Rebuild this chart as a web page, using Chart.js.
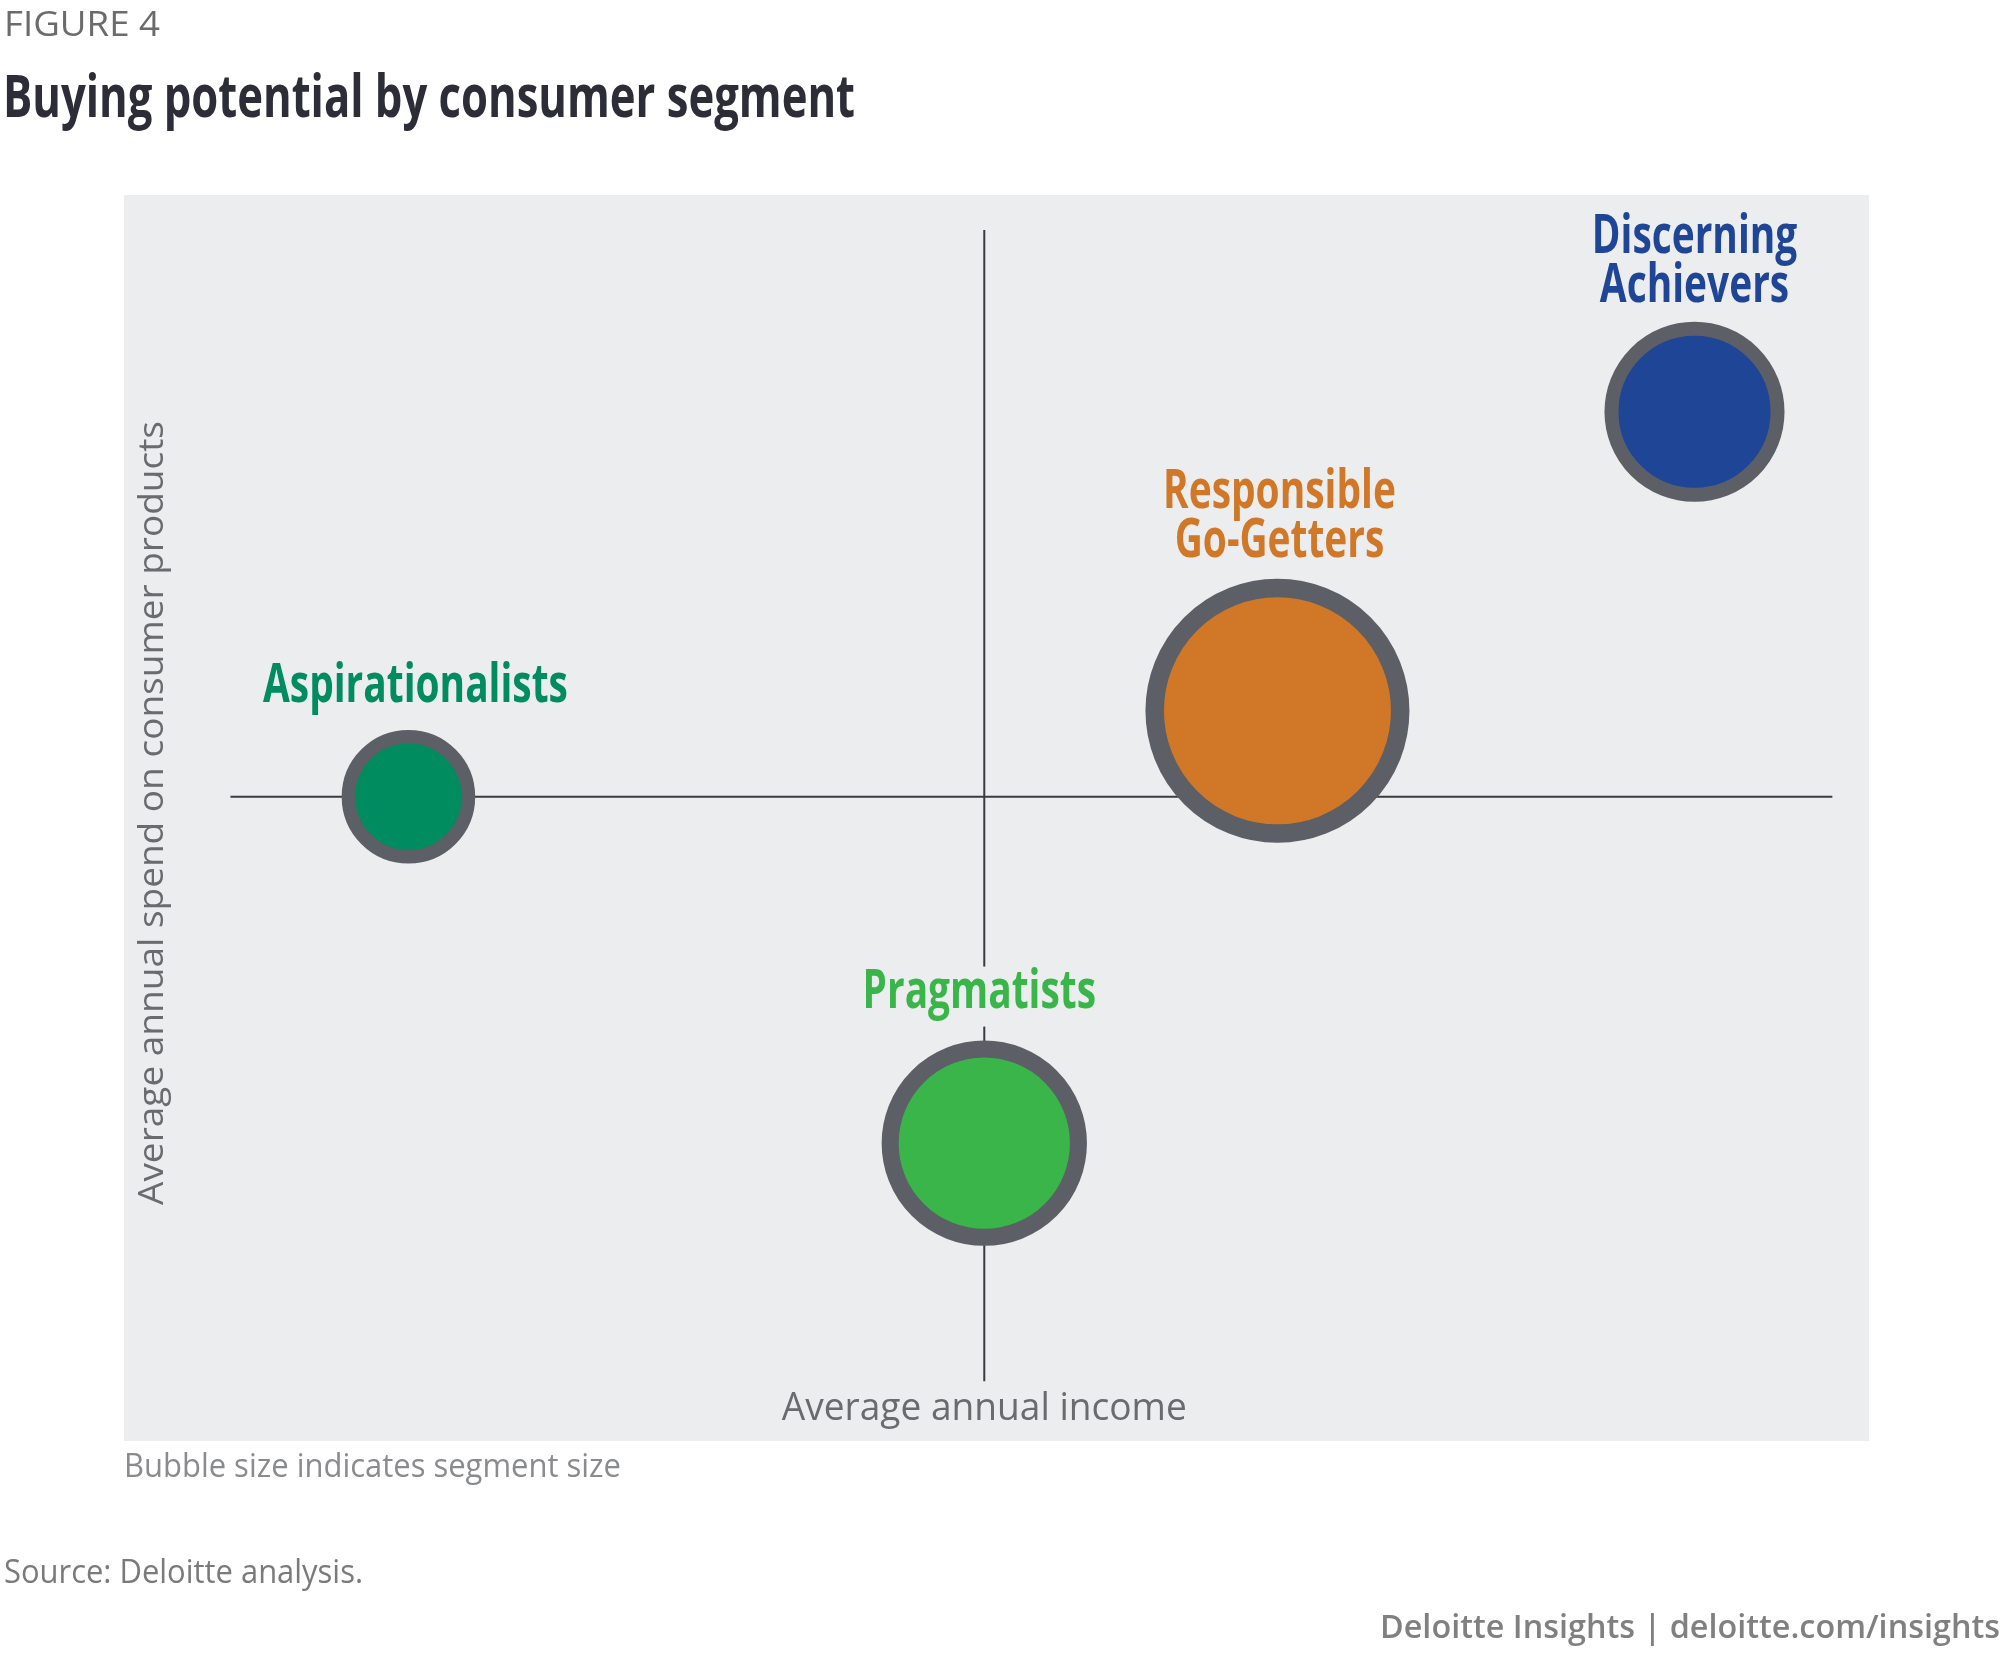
<!DOCTYPE html>
<html>
<head>
<meta charset="utf-8">
<script src="https://cdn.jsdelivr.net/npm/chart.js@4.4.1/dist/chart.umd.min.js"></script>
<style>
  html, body { margin: 0; padding: 0; background: #ffffff; }
  #chart { position: absolute; left: 0; top: 0; }
</style>
</head>
<body>
<canvas id="chart" width="2000" height="1653"></canvas>
<script>
// Segmente und Werte (Achsen 0..100 ohne Einheit)
const segments = ['Aspirationalists', 'Responsible\nGo-Getters', 'Discerning\nAchievers', 'Pragmatists'];
const income = [16.3, 66.1, 90.0, 49.3];        // Average annual income (x)
const spend = [51.7, 58.6, 82.6, 23.9];         // Average annual spend on consumer products (y)
const segmentShare = [11, 43, 20, 26];          // Bubble size = segment size (%)

// Quadranten-Achsen
const incomeMid = 49.3;
const spendMid = 51.7;
const incomeSpan = [6.1, 97.9];
const spendSpan = [4.8, 97.2];

// Farben
const fillColors = ['#008c5f', '#d07828', '#1f4696', '#3ab54a'];
const ringColor = '#5d5f66';
const ringWidths = [13.5, 18.5, 14, 17];
const panelColor = '#ecedef';

// Blasenradius aus Segmentgröße (Fläche ~ Anteil)
const outerRadius = s => 20.13 * Math.sqrt(s);

const bubbleData = income.map((x, i) => ({
    x: x,
    y: spend[i],
    r: outerRadius(segmentShare[i]) - ringWidths[i] / 2
}));

// Text mit horizontaler Stauchung / Breitenanpassung zeichnen
function drawText(ctx, text, x, y, font, color, opts) {
    opts = opts || {};
    ctx.save();
    ctx.font = font;
    ctx.fillStyle = color;
    ctx.textBaseline = 'alphabetic';
    const w = ctx.measureText(text).width;
    let sx = opts.scale || 1;
    if (opts.width) sx = opts.width / w;
    ctx.translate(x, y);
    if (opts.rotate) ctx.rotate(opts.rotate);
    ctx.scale(sx, 1);
    let dx = 0;
    if (opts.align === 'center') dx = -w / 2;
    if (opts.align === 'right') dx = -w;
    ctx.fillText(text, dx, 0);
    ctx.restore();
    return w * sx;
}

const labelGap = [28, 22, 20, 33];
const labelShift = [7, 2, 0, -5];
const labelFont = 'bold 54px "Open Sans"';
const condense = 0.72;

const quadrantPlugin = {
    id: 'quadrants',
    beforeDraw(chart) {
        const { ctx, chartArea: a } = chart;
        ctx.save();
        ctx.fillStyle = panelColor;
        ctx.fillRect(a.left, a.top, a.right - a.left, a.bottom - a.top);
        ctx.restore();
    },
    beforeDatasetsDraw(chart) {
        const { ctx, scales: { x, y } } = chart;
        ctx.save();
        ctx.strokeStyle = '#3a3b40';
        ctx.lineWidth = 2;
        ctx.beginPath();
        ctx.moveTo(x.getPixelForValue(incomeMid), y.getPixelForValue(spendSpan[1]));
        ctx.lineTo(x.getPixelForValue(incomeMid), y.getPixelForValue(spendSpan[0]));
        ctx.moveTo(x.getPixelForValue(incomeSpan[0]), y.getPixelForValue(spendMid));
        ctx.lineTo(x.getPixelForValue(incomeSpan[1]), y.getPixelForValue(spendMid));
        ctx.stroke();
        ctx.restore();
    },
    afterDatasetsDraw(chart) {
        const { ctx } = chart;
        const meta = chart.getDatasetMeta(0);
        meta.data.forEach((pt, i) => {
            const lines = segments[i].split('\n');
            const top = pt.y - outerRadius(segmentShare[i]) - labelGap[i];
            const cx = pt.x + labelShift[i];
            lines.forEach((line, j) => {
                const baseY = top - (lines.length - 1 - j) * 49;
                if (lines.length === 1 && i === 3) {
                    // Hintergrund hinter dem Label, damit die Achse unterbrochen wird
                    ctx.save();
                    ctx.font = labelFont;
                    const w = ctx.measureText(line).width * condense;
                    ctx.fillStyle = panelColor;
                    ctx.fillRect(cx - w / 2 - 6, baseY - 41, w + 12, 60);
                    ctx.restore();
                }
                drawText(ctx, line, cx, baseY, labelFont, fillColors[i], { scale: condense, align: 'center' });
            });
        });
    },
    afterDraw(chart) {
        const { ctx, chartArea: a, scales: { x, y } } = chart;
        // Achsentitel
        drawText(ctx, 'Average annual income', x.getPixelForValue(incomeMid), 1420,
            '38px "Open Sans"', '#6a6b6f', { width: 405, align: 'center' });
        drawText(ctx, 'Average annual spend on consumer products', a.left + 39, 813,
            '34px "Open Sans"', '#6a6b6f', { width: 784, align: 'center', rotate: -Math.PI / 2 });
        // Kopf und Fuß
        drawText(ctx, 'FIGURE 4', 4, 36, '35px "Open Sans"', '#6b6b6b', { width: 156 });
        drawText(ctx, 'Buying potential by consumer segment', 3, 117, 'bold 59px "Open Sans"', '#2c2d36', { width: 852 });
        drawText(ctx, 'Bubble size indicates segment size', 124, 1477, '33px "Open Sans"', '#8a8b8e', { width: 497 });
        drawText(ctx, 'Source: Deloitte analysis.', 4, 1583, '33px "Open Sans"', '#7a7a7a', { width: 359 });
        drawText(ctx, 'Deloitte Insights | deloitte.com/insights', 2000, 1638, '600 32px "Open Sans"', '#808080', { width: 620, align: 'right' });
    }
};

const ctx = document.getElementById('chart').getContext('2d');
window.myChart = new Chart(ctx, {
    type: 'bubble',
    data: {
        datasets: [{
            label: 'Segments',
            data: bubbleData,
            backgroundColor: fillColors,
            borderColor: ringColor,
            borderWidth: ringWidths,
            hoverBorderWidth: ringWidths,
            clip: false
        }]
    },
    options: {
        responsive: false,
        animation: false,
        devicePixelRatio: 1,
        layout: { autoPadding: false, padding: { left: 124, right: 131, top: 195, bottom: 212 } },
        plugins: { legend: { display: false }, tooltip: { enabled: false } },
        events: [],
        scales: {
            x: { type: 'linear', min: 0, max: 100, display: false },
            y: { type: 'linear', min: 0, max: 100, display: false }
        }
    },
    plugins: [quadrantPlugin]
});
</script>
</body>
</html>
